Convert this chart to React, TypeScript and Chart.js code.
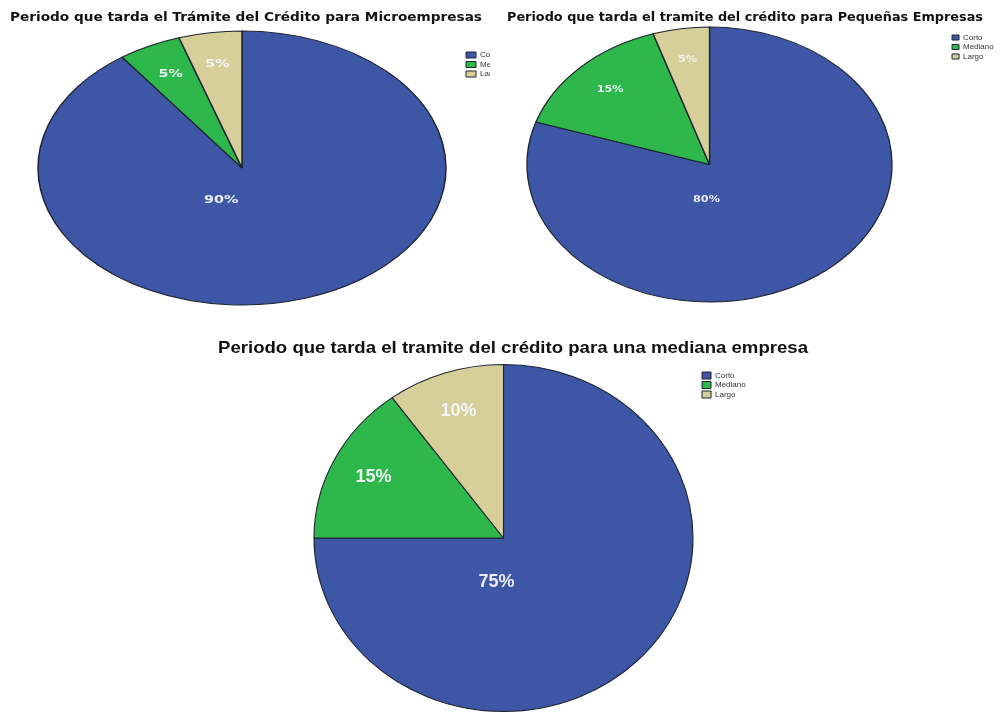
import React, { useEffect, useRef } from "react";
import { Chart, registerables } from "chart.js";

Chart.register(...registerables);

// ---------- data ----------
const categories = ["Corto", "Mediano", "Largo"];
const microValues = [90, 5, 5];
const pequenasValues = [80, 15, 5];
const medianaValues = [75, 15, 10];

const titleMicro = "Periodo que tarda el Trámite del Crédito para Microempresas";
const titlePequenas = "Periodo que tarda el tramite del crédito para Pequeñas Empresas";
const titleMediana = "Periodo que tarda el tramite del crédito para una mediana empresa";

// ---------- styles ----------
const sliceColors = ["#3d56a6", "#2eb84b", "#d6cf9a"];
const sliceBorder = "#1f2430";
const PAGE_W = 1001;
const PAGE_H = 713;
const CANVAS_W = 1400;
const CANVAS_H = 1000;

// Draws the pie as an ellipse (the reference image is stretched), plus
// percentage labels and the title.
const ellipsePiePlugin = {
  id: "ellipsePie",
  beforeDatasetsDraw(chart: any, _args: any, opts: any) {
    const arc = chart.getDatasetMeta(0).data[0];
    const ctx = chart.ctx;
    ctx.save();
    if (!arc) return;
    ctx.translate(opts.cx, opts.cy);
    ctx.scale(opts.rx / arc.outerRadius, opts.ry / arc.outerRadius);
    ctx.translate(-arc.x, -arc.y);
  },
  afterDatasetsDraw(chart: any, _args: any, opts: any) {
    const ctx = chart.ctx;
    ctx.restore();
    const data: number[] = chart.data.datasets[0].data;
    const total = data.reduce((a, b) => a + b, 0);
    const arcs = chart.getDatasetMeta(0).data;
    ctx.save();
    ctx.font = opts.labelFont;
    ctx.fillStyle = opts.labelColor;
    ctx.textAlign = "center";
    ctx.textBaseline = "middle";
    arcs.forEach((arc: any, i: number) => {
      const frac = data[i] / total;
      let ang: number;
      let f: number;
      if (frac > 0.5) {
        ang = (opts.bigAngle * Math.PI) / 180;
        f = opts.bigRadius;
      } else {
        ang = (arc.startAngle + arc.endAngle) / 2;
        f = opts.smallRadius;
      }
      const x = opts.cx + opts.rx * f * Math.cos(ang);
      const y = opts.cy + opts.ry * f * Math.sin(ang);
      ctx.save();
      ctx.translate(x, y);
      ctx.scale(opts.labelStretch, 1);
      ctx.fillText(Math.round(frac * 100) + "%", 0, 0);
      ctx.restore();
    });
    ctx.restore();
  },
  afterDraw(chart: any, _args: any, opts: any) {
    const ctx = chart.ctx;
    ctx.save();
    ctx.font = opts.titleFont;
    const w = ctx.measureText(opts.title).width;
    ctx.translate(opts.titleX, opts.titleY);
    ctx.scale(opts.titleWidth / w, 1);
    ctx.fillStyle = "#111111";
    ctx.textAlign = "center";
    ctx.textBaseline = "middle";
    ctx.fillText(opts.title, 0, 0);
    ctx.restore();
  },
};

type Geo = {
  cx: number;
  cy: number;
  rx: number;
  ry: number;
  legendX: number;
  legendY: number;
  legendFont: number;
  boxW: number;
  boxH: number;
  legendPad: number;
  title: string;
  titleX: number;
  titleY: number;
  titleWidth: number;
  titleFont: string;
  labelFont: string;
  labelStretch: number;
  bigAngle: number;
};

function EllipsePie({ values, geo }: { values: number[]; geo: Geo }) {
  const ref = useRef<HTMLCanvasElement>(null);
  useEffect(() => {
    if (!ref.current) return;
    const size = 2 * geo.ry;
    const areaH = Math.max(size, geo.legendY + 80);
    const chart = new Chart(ref.current, {
      type: "pie",
      data: {
        labels: categories,
        datasets: [
          {
            data: values,
            backgroundColor: sliceColors,
            borderColor: sliceBorder,
            borderWidth: 1,
            clip: false as any,
          },
        ],
      },
      options: {
        responsive: false,
        animation: false,
        events: [],
        layout: {
          padding: {
            left: geo.legendX,
            top: 0,
            right: CANVAS_W - geo.legendX - size,
            bottom: CANVAS_H - areaH,
          },
        },
        plugins: {
          title: { display: false },
          tooltip: { enabled: false },
          legend: {
            position: "chartArea" as any,
            align: "start",
            title: {
              display: true,
              text: "",
              font: { size: 1, lineHeight: 1 },
              padding: { top: geo.legendY - 1, bottom: 0 },
            },
            labels: {
              boxWidth: geo.boxW,
              boxHeight: geo.boxH,
              padding: geo.legendPad,
              color: "#333333",
              font: { family: "'Liberation Sans', Arial, sans-serif", size: geo.legendFont },
            },
          },
          ellipsePie: {
            cx: geo.cx,
            cy: geo.cy,
            rx: geo.rx,
            ry: geo.ry,
            bigAngle: geo.bigAngle,
            bigRadius: 0.255,
            smallRadius: 0.77,
            labelFont: geo.labelFont,
            labelStretch: geo.labelStretch,
            labelColor: "rgba(246,246,255,0.95)",
            title: geo.title,
            titleX: geo.titleX,
            titleY: geo.titleY,
            titleWidth: geo.titleWidth,
            titleFont: geo.titleFont,
          },
        } as any,
      },
      plugins: [ellipsePiePlugin as any],
    });
    return () => chart.destroy();
  }, []);
  return (
    <canvas
      ref={ref}
      width={CANVAS_W}
      height={CANVAS_H}
      style={{ position: "absolute", left: 0, top: 0 }}
    />
  );
}

const geoMicro: Geo = {
  cx: 242, cy: 168, rx: 204, ry: 137,
  legendX: 464.5, legendY: 49.5, legendFont: 8, boxW: 10, boxH: 6, legendPad: 1.5,
  title: titleMicro, titleX: 246, titleY: 18, titleWidth: 472,
  titleFont: "bold 12px 'DejaVu Sans', Verdana, sans-serif",
  labelFont: "bold 11px 'DejaVu Sans', Verdana, sans-serif", labelStretch: 1.3,
  bigAngle: 113.7,
};

const geoPequenas: Geo = {
  cx: 709.5, cy: 164.5, rx: 182.5, ry: 137.5,
  legendX: 950.5, legendY: 32, legendFont: 8, boxW: 7, boxH: 5, legendPad: 1.5,
  title: titlePequenas, titleX: 745, titleY: 18, titleWidth: 476,
  titleFont: "bold 12px 'DejaVu Sans', Verdana, sans-serif",
  labelFont: "bold 9px 'DejaVu Sans', Verdana, sans-serif", labelStretch: 1.25,
  bigAngle: 93.7,
};

const geoMediana: Geo = {
  cx: 503.5, cy: 538, rx: 189.5, ry: 173.5,
  legendX: 700.5, legendY: 370, legendFont: 8, boxW: 9, boxH: 7, legendPad: 1.5,
  title: titleMediana, titleX: 513, titleY: 348, titleWidth: 590,
  titleFont: "bold 17px 'Liberation Sans', Arial, sans-serif",
  labelFont: "bold 18px 'Liberation Sans', Arial, sans-serif", labelStretch: 1,
  bigAngle: 98.3,
};

export default function App() {
  return (
    <div
      style={{
        position: "fixed",
        left: 0,
        top: 0,
        width: PAGE_W,
        height: PAGE_H,
        background: "#ffffff",
        overflow: "hidden",
      }}
    >
      <div style={{ position: "absolute", left: 0, top: 0, width: 490, height: PAGE_H, overflow: "hidden" }}>
        <EllipsePie values={microValues} geo={geoMicro} />
      </div>
      <EllipsePie values={pequenasValues} geo={geoPequenas} />
      <EllipsePie values={medianaValues} geo={geoMediana} />
    </div>
  );
}
